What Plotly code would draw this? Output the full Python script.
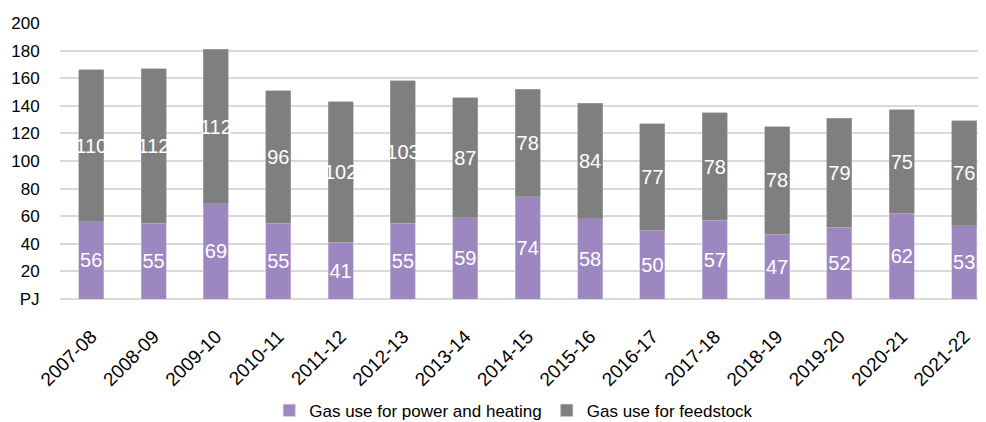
import plotly.graph_objects as go

years = ["2007-08", "2008-09", "2009-10", "2010-11", "2011-12", "2012-13", "2013-14",
         "2014-15", "2015-16", "2016-17", "2017-18", "2018-19", "2019-20", "2020-21", "2021-22"]
power_heating = [56, 55, 69, 55, 41, 55, 59, 74, 58, 50, 57, 47, 52, 62, 53]
feedstock = [110, 112, 112, 96, 102, 103, 87, 78, 84, 77, 78, 78, 79, 75, 76]
y_ticks = [0, 20, 40, 60, 80, 100, 120, 140, 160, 180, 200]
y_ticktext = ["PJ", "20", "40", "60", "80", "100", "120", "140", "160", "180", "200"]

FONT = "Liberation Sans, Arial, sans-serif"
NARROW = "Liberation Sans Narrow, Arial Narrow, Liberation Sans, sans-serif"

fig = go.Figure()
fig.add_trace(go.Bar(
    x=years, y=power_heating, name="Gas use for power and heating",
    marker=dict(color="#9d87c0", line=dict(color="#cbbfdd", width=0.6)),
    text=[str(v) for v in power_heating], textposition="inside",
    insidetextanchor="middle", textangle=0, constraintext="none",
    textfont=dict(color="white", size=20, family=NARROW),
))
fig.add_trace(go.Bar(
    x=years, y=feedstock, name="Gas use for feedstock",
    marker=dict(color="#7f7f7f", line=dict(color="#a6a6a6", width=0.6)),
    text=[str(v) for v in feedstock], textposition="inside",
    insidetextanchor="middle", textangle=0, constraintext="none",
    textfont=dict(color="white", size=20, family=NARROW),
))

fig.update_layout(
    barmode="stack", bargap=0.6,
    width=978, height=414,
    margin=dict(l=52, r=0, t=15, b=123, autoexpand=False),
    paper_bgcolor="white", plot_bgcolor="white",
    font=dict(family=FONT, size=17, color="black"),
    legend=dict(orientation="h", x=0.49, xanchor="center", y=-0.405, yanchor="middle",
                font=dict(size=17), traceorder="normal"),
    xaxis=dict(type="category", tickangle=-45, tickfont=dict(size=19), showgrid=False,
               range=[-0.5, 14.35], ticks="outside", ticklen=18, tickcolor="white",
               showline=False, automargin=False),
    yaxis=dict(range=[0, 200], tickvals=y_ticks, ticktext=y_ticktext,
               showgrid=True, gridcolor="#d9d9d9", gridwidth=1.5,
               zeroline=True, zerolinecolor="#d9d9d9", zerolinewidth=1.5,
               tickfont=dict(size=17), ticks="outside", ticklen=16, tickcolor="white",
               automargin=False),
)

fig.write_html("out.html")
